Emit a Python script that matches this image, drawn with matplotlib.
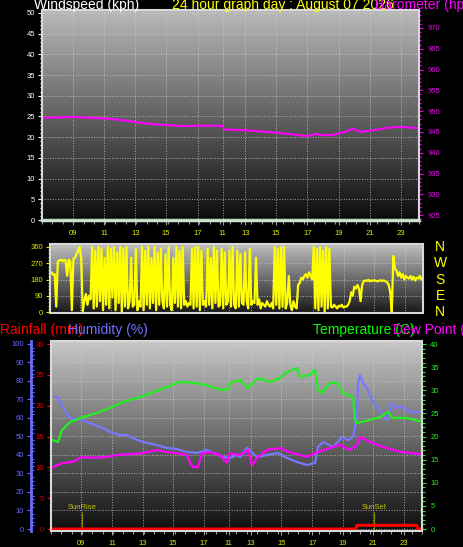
import numpy as np
import matplotlib
matplotlib.use('Agg')
import matplotlib.pyplot as plt
from matplotlib.ticker import MultipleLocator
from matplotlib.patches import Rectangle

plt.rcParams['font.family'] = ['Liberation Sans', 'DejaVu Sans']

# time axis: hours from the start of the 24 h window
tick_pos = [1.95, 3.95, 5.95, 7.9, 9.9, 11.5, 12.95, 14.9, 16.9, 18.9, 20.85, 22.85]
tick_labels = ['09', '11', '13', '15', '17', '11', '13', '15', '17', '19', '21', '23']

# windspeed (kph) and barometer (hPa)
wind_t = [0, 24]
wind_kph = [0, 0]
baro_t = [0.06, 1.0, 1.97, 3.0, 4.14, 5.2, 6.24, 7.32, 8.98, 10.2, 11.46, 11.6,
          13.0, 14.7, 16.0, 16.87, 17.4, 17.8, 18.52, 19.3, 19.8, 20.24, 21.1,
          21.96, 22.79, 23.3, 23.87]
baro_hpa = [948.4, 948.5, 948.6, 948.4, 948.2, 947.8, 947.2, 946.8, 946.4, 946.5,
            946.5, 945.6, 945.4, 944.9, 944.4, 944.0, 944.5, 944.2, 944.3, 945.0,
            945.8, 945.0, 945.4, 946.0, 946.2, 946.1, 945.9]

# wind direction (degrees), one reading every 6 minutes
wind_dir = [
    215, 220, 205, 210, 30, 280, 285, 290, 282, 288,
    285, 200, 290, 280, 10, 295, 300, 320, 340, 360,
    300, 5, 60, 100, 40, 90, 70, 360, 20, 340,
    30, 360, 60, 350, 10, 300, 40, 360, 20, 350,
    80, 360, 10, 330, 50, 360, 0, 350, 30, 360,
    20, 60, 300, 30, 40, 350, 10, 60, 30, 360,
    10, 340, 40, 360, 20, 300, 50, 360, 10, 330,
    40, 350, 60, 20, 320, 30, 360, 40, 10, 300,
    50, 360, 30, 340, 20, 360, 40, 60, 30, 50,
    40, 350, 20, 360, 30, 360, 10, 340, 40, 60,
    30, 350, 40, 300, 20, 360, 50, 340, 30, 40,
    350, 20, 330, 40, 60, 340, 30, 360, 40, 20,
    340, 30, 320, 50, 40, 330, 60, 20, 350, 40,
    60, 50, 300, 40, 70, 20, 50, 40, 30, 60,
    40, 30, 50, 20, 360, 40, 350, 20, 360, 30,
    360, 20, 50, 200, 40, 10, 60, 30, 20, 150,
    160, 190, 180, 200, 210, 190, 220, 200, 180, 360,
    20, 350, 10, 360, 30, 340, 0, 360, 20, 350,
    30, 25, 40, 30, 20, 35, 30, 40, 25, 30,
    30, 40, 60, 110, 90, 140, 130, 150, 130, 60,
    150, 170, 175, 172, 178, 170, 175, 173, 176, 172,
    170, 174, 176, 172, 175, 170, 165, 150, 110, 0,
    310, 240, 230, 200, 220, 190, 210, 180, 200, 190,
    185, 200, 180, 195, 175, 190, 185, 200, 180, 190,
]
compass = ['N', 'W', 'S', 'E', 'N']
compass_deg = [360, 270, 180, 90, 0]

# temperature / dew point (C), humidity (%), rainfall (mm)
temp_t = [0.13, 0.45, 0.71, 1.23, 2.07, 2.98, 3.82, 4.66, 5.76, 6.6, 7.5, 8.35,
          9.19, 10.1, 10.93, 11.45, 11.58, 12.23, 12.74, 13.39, 14.17, 14.81,
          15.14, 15.91, 16.11, 16.75, 17.08, 17.27, 17.53, 18.05, 18.5, 18.89,
          19.54, 19.67, 19.8, 20.64, 21.28, 21.8, 22.12, 23.03, 23.87]
temp_c = [19.2, 18.8, 21.4, 23.1, 24.2, 25.1, 26.2, 27.5, 28.5, 29.6, 30.7, 31.8,
          31.6, 31.1, 30.1, 30.1, 31.6, 32.2, 30.5, 32.6, 31.8, 32.6,
          33.7, 34.8, 32.9, 33.3, 34.4, 30.1, 29.4, 31.6, 31.6, 29.4,
          28.5, 23.6, 22.9, 23.6, 24.2, 25.3, 24.0, 24.0, 23.3]
hum_t = [0.26, 0.45, 0.78, 1.04, 1.36, 2.01, 2.52, 3.17, 3.62, 3.82, 4.46, 4.92,
         5.56, 6.21, 6.86, 7.5, 8.15, 8.8, 9.45, 10.1, 10.48, 11.13, 11.58, 12.03,
         12.23, 12.68, 13.33, 13.97, 14.68, 15.26, 15.91, 16.56, 17.08, 17.27,
         17.6, 18.24, 18.83, 19.21, 19.54, 19.8, 19.86, 19.99, 20.18, 20.44,
         20.83, 21.15, 21.73, 22.06, 22.38, 22.77, 23.22, 23.87]
hum_pct = [71.4, 70.8, 66.0, 61.6, 59.5, 58.9, 57.3, 55.1, 53.5, 52.4, 50.8, 50.8,
           48.1, 46.5, 45.4, 43.8, 43.2, 41.6, 41.1, 42.7, 41.1, 38.9, 38.4, 40.0,
           38.9, 43.8, 38.9, 40.0, 41.1, 38.4, 36.2, 34.6, 35.7, 44.3,
           47.0, 44.3, 49.7, 48.1, 49.7, 60.5, 78.9, 83.2, 78.9, 76.2,
           68.6, 65.4, 58.9, 68.1, 65.4, 66.0, 63.2, 63.2]
dew_t = [0.13, 0.78, 1.42, 2.01, 2.72, 3.62, 4.27, 5.11, 5.95, 6.86, 7.5, 8.15,
         8.8, 8.99, 9.19, 9.51, 9.77, 10.29, 10.93, 11.38, 11.58, 12.23, 12.74,
         13.0, 13.33, 13.97, 14.81, 15.46, 16.11, 16.56, 17.21, 18.05, 18.69,
         19.34, 19.8, 19.99, 20.44, 21.09, 21.73, 22.12, 22.77, 23.41, 23.87]
dew_c = [13.4, 14.3, 14.5, 15.6, 15.4, 15.6, 16.0, 16.2, 16.4, 17.1, 16.6, 16.4,
         16.0, 14.3, 13.4, 13.4, 16.4, 16.6, 16.0, 14.3, 16.4, 16.0, 17.1,
         13.8, 15.4, 17.1, 17.5, 16.6, 16.0, 15.6, 16.6, 17.5, 18.2,
         17.1, 18.2, 19.9, 19.2, 18.2, 17.5, 17.1, 16.6, 16.4, 16.2]
rain_t = [0, 19.7, 19.8, 23.65, 23.72, 24]
rain_mm = [0, 0, 0.6, 0.6, 0, 0]
sun_names = ['SunRise', 'SunSet']
sun_t = [2.0, 20.9]

W, H = 464, 547
fig = plt.figure(figsize=(W / 100, H / 100), dpi=100, facecolor='black')
yellow = '#e8e800'


def box(x0, y0, x1, y1):
    return [x0 / W, 1 - y1 / H, (x1 - x0) / W, (y1 - y0) / H]


def shade(ax, top, bottom, ylim):
    grad = np.linspace(top, bottom, 256)[:, None]
    ax.imshow(grad, extent=[0, 24, ylim[0], ylim[1]], aspect='auto', cmap='gray',
              vmin=0, vmax=255, origin='upper', zorder=0, interpolation='bilinear')
    ax.set_xlim(0, 24)
    ax.set_ylim(*ylim)


def frame(ax):
    ax.add_patch(Rectangle((0, 0), 1, 1, transform=ax.transAxes, fill=False,
                           edgecolor='#d8d8d8', lw=1.5, zorder=6, clip_on=False))


def xaxis(ax, labels=True):
    ax.set_xticks(tick_pos)
    ax.set_xticklabels(tick_labels if labels else [])
    ax.xaxis.set_minor_locator(MultipleLocator(2 / 3))
    ax.tick_params(axis='x', which='both', colors='#9a9a9a', labelcolor=yellow,
                   labelsize=5.5, pad=3.5, length=3 if labels else 0, width=0.8)
    ax.tick_params(axis='x', which='minor', length=2 if labels else 0)


def grid(ax):
    ax.set_axisbelow(True)
    ax.grid(True, which='major', color='#d0d0d0', ls=':', lw=0.7, alpha=0.75)


def hide_spines(*axes):
    for a in axes:
        for s in a.spines.values():
            s.set_visible(False)


# ---- windspeed / barometer ----
ax1 = fig.add_axes(box(42, 10, 419, 221))
shade(ax1, 185, 12, (-0.24, 50.7))
ax1.plot(wind_t, wind_kph, color='#a8e4a8', lw=2.5, zorder=3, clip_on=False)
ax1.yaxis.set_major_locator(MultipleLocator(5))
ax1.yaxis.set_minor_locator(MultipleLocator(1))
ax1.tick_params(axis='y', which='both', colors='white', labelsize=5.5, length=3,
                width=0.8, pad=2)
ax1.tick_params(axis='y', which='minor', length=1.5)
xaxis(ax1)
grid(ax1)
ax1b = ax1.twinx()
ax1b.plot(baro_t, baro_hpa, color='#ff00ff', lw=1.5, zorder=3)
ax1b.set_ylim(923.6, 974.3)
ax1b.yaxis.set_major_locator(MultipleLocator(5))
ax1b.yaxis.set_minor_locator(MultipleLocator(1))
ax1b.tick_params(axis='y', which='both', colors='#ee00ee', labelsize=5.5, length=3,
                 width=0.8, pad=3)
ax1b.tick_params(axis='y', which='minor', length=1.5)
hide_spines(ax1, ax1b)
frame(ax1b)

# ---- wind direction ----
ax2 = fig.add_axes(box(50, 244, 423, 313))
shade(ax2, 190, 25, (-5.5, 376.6))
ax2.plot(np.linspace(0, 24, len(wind_dir)), wind_dir, color='#ffff00', lw=1.6, zorder=3)
ax2.set_yticks([0, 90, 180, 270, 360])
ax2.yaxis.set_minor_locator(MultipleLocator(18))
ax2.tick_params(axis='y', which='both', colors=yellow, labelsize=5.5, length=3,
                width=0.8, pad=2)
ax2.tick_params(axis='y', which='minor', length=1.5, colors='#a0a060')
xaxis(ax2, labels=False)
grid(ax2)
hide_spines(ax2)
frame(ax2)
for letter, deg in zip(compass, compass_deg):
    ax2.text(1.046, deg, letter, transform=ax2.get_yaxis_transform(), color='#ffff00',
             fontsize=10, ha='center', va='center')

# ---- rain / humidity / temperature ----
ax3 = fig.add_axes(box(51, 341, 422, 531))
shade(ax3, 200, 15, (-1.08, 101.6))
ax3.plot(hum_t, hum_pct, color='#7878ff', lw=1.6, zorder=3)
ax3.yaxis.set_major_locator(MultipleLocator(10))
ax3.yaxis.set_minor_locator(MultipleLocator(2))
ax3.tick_params(axis='y', which='both', colors='#6a6aff', labelsize=5.5, length=3,
                width=0.8, pad=2)
ax3.tick_params(axis='y', which='minor', direction='in', length=2.5)
xaxis(ax3)
grid(ax3)
for name, t in zip(sun_names, sun_t):
    ax3.vlines(t, -1.08, 9.3, color='#8a8a00', lw=0.8, zorder=2)
    ax3.text(t, 11.4, name, color='#c8c800', fontsize=5.5, ha='center', va='center',
             zorder=4)

ax3r = ax3.twinx()
ax3r.plot(rain_t, rain_mm, color='#ff0000', lw=2.2, zorder=3, clip_on=False)
ax3r.set_ylim(-0.32, 30.49)
ax3r.yaxis.tick_left()
ax3r.yaxis.set_major_locator(MultipleLocator(5))
ax3r.yaxis.set_minor_locator(MultipleLocator(1))
ax3r.tick_params(axis='y', which='both', colors='#ff0000', labelcolor='#e00000',
                 labelsize=5.5, length=3, width=0.8, pad=2)
ax3r.tick_params(axis='y', which='minor', length=1.8)

ax3t = ax3.twinx()
ax3t.plot(temp_t, temp_c, color='#22ee22', lw=1.6, zorder=3)
ax3t.plot(dew_t, dew_c, color='#ff00ff', lw=1.6, zorder=3)
ax3t.set_ylim(-0.43, 40.65)
ax3t.yaxis.set_major_locator(MultipleLocator(5))
ax3t.yaxis.set_minor_locator(MultipleLocator(1))
ax3t.tick_params(axis='y', which='both', colors='#22ee22', labelsize=5.5, length=3,
                 width=0.8, pad=3)
ax3t.tick_params(axis='y', which='minor', length=1.8)

hide_spines(ax3, ax3r, ax3t)
ax3.spines['left'].set_visible(True)
ax3.spines['left'].set_position(('outward', 14.4))
ax3.spines['left'].set_color('#6a6aff')
ax3.spines['left'].set_linewidth(2)
frame(ax3t)

# ---- titles ----
def title(x, y, s, c):
    fig.text(x / W, 1 - y / H, s, color=c, fontsize=10, ha='left', va='baseline')


title(34, 9.5, 'Windspeed (kph)', 'white')
title(172, 9.5, '24 hour graph day : August 07 2026', '#ffff00')
title(375, 9.5, 'Barometer (hpa)', '#ff00ff')
title(0, 334, 'Rainfall (mm)', '#ff0000')
title(68, 334, 'Humidity (%)', '#7070ff')
title(313, 334, 'Temperature (C)', '#00ff00')
title(393, 334, 'Dew Point (°C)', '#ff00ff')

fig.savefig('out.png', dpi=100, facecolor='black')
